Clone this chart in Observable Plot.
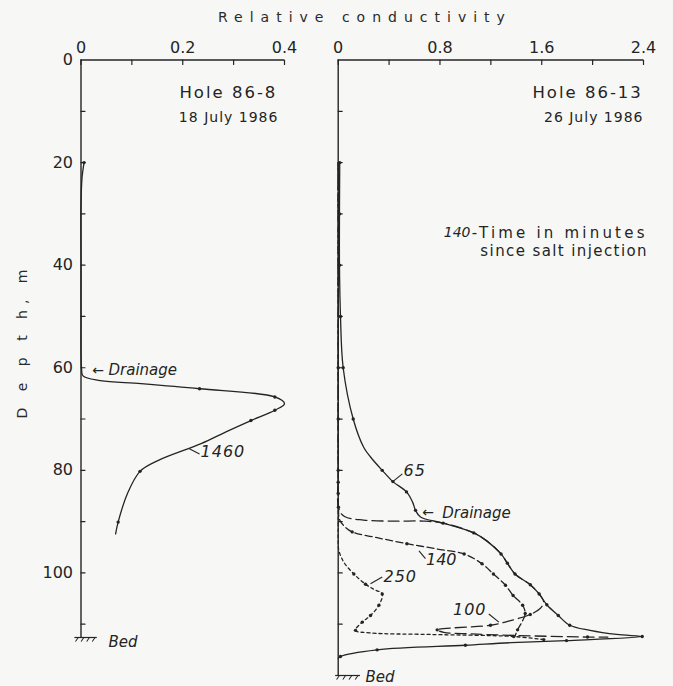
<!DOCTYPE html>
<html><head><meta charset="utf-8">
<script src="https://cdn.jsdelivr.net/npm/d3@7"></script>
<script src="https://cdn.jsdelivr.net/npm/@observablehq/plot@0.6"></script>
<style>
body{margin:0;background:#f7f8f5;}
#wrap{position:relative;width:673px;height:686px;overflow:hidden;font-family:"DejaVu Sans",sans-serif;color:#2a2a2a;background:#f7f8f5;}
#title{position:absolute;left:218px;top:9px;font-size:14px;letter-spacing:7px;white-space:nowrap;}
#ylab{position:absolute;left:22px;top:341px;transform:translate(-50%,-50%) rotate(-90deg);font-size:14px;letter-spacing:6px;white-space:pre;}
</style></head>
<body><div id="wrap"><div id="title">Relative conductivity</div><div id="ylab">D e p t h, m</div></div>
<script>
// ---- data: [depth m, relative conductivity, measured point (1) or not (0)] ----
const hole868_1460 = [
  [20,0.006,1],[23,0.002,0],[28,0,0],[40,0,0],[50,0,0],[60,0.001,0],[61.6,0.004,0],[62.5,0.038,0],
  [63.1,0.118,0],[64.1,0.233,1],[65.7,0.381,1],[67.0,0.400,0],[68.3,0.381,1],[70.3,0.334,1],
  [72.5,0.285,0],[74.8,0.236,0],[78.1,0.151,0],[80.2,0.116,1],[84.6,0.091,0],[90.1,0.073,1],[92.4,0.068,0]
];
const hole8613_65 = [
  [20,0.012,1],[30,0.01,1],[40,0.01,1],[50,0.018,1],[60,0.039,1],[70,0.118,1],[75.5,0.2,0],[77.4,0.254,0],
  [80,0.346,1],[82.2,0.43,1],[84.2,0.537,1],[86.2,0.585,0],[87.8,0.608,1],[89.1,0.647,0],[90.3,0.825,1],
  [92.2,1.066,1],[93.8,1.17,0],[96.3,1.28,1],[98.1,1.33,1],[100.2,1.39,1],[102.3,1.51,1],[104.1,1.58,1],
  [106.2,1.64,1],[108.3,1.73,1],[110.2,1.82,1],[111.2,1.98,0],[112.0,2.19,0],[112.4,2.39,1],
  [113.2,1.795,1],[113.6,1.36,0],[114.1,1.0,1],[115.0,0.306,1],[116.3,0.018,1],[116.7,0,0]
];
const hole8613_100 = [
  [20,0,0],[60,0,0],[80,0,0],[87.5,0.005,0],[89.0,0.05,0],[89.7,0.2,0],[89.9,0.45,0],[89.9,0.67,0],
  [90.3,0.825,0],[92.2,1.066,0],[93.8,1.17,0],[96.3,1.28,0],[98.1,1.33,0],[100.2,1.39,0],[102.3,1.51,0],
  [104.3,1.585,0],[105.7,1.615,0],[107.0,1.585,0],[108.1,1.51,1],[109.3,1.355,0],[110.2,1.197,1],
  [111.1,0.778,1],[111.6,0.83,0],[111.9,1.05,0],[112.2,1.4,0],[112.5,1.96,1],[112.5,2.12,0]
];
const hole8613_140 = [
  [20,0,0],[60,0,1],[70,0,1],[80,0,1],[82.3,0,1],[84.5,0,1],[87.2,0.002,1],[89.6,0.01,0],[90.8,0.045,0],
  [92.0,0.11,1],[93.2,0.32,0],[94.3,0.54,1],[95.3,0.77,0],[96.3,0.99,1],[98.2,1.13,1],[100.2,1.22,1],
  [102.4,1.315,1],[104.4,1.375,1],[106.3,1.45,1],[107.9,1.47,1],[109.3,1.45,0],[111.1,1.41,1],[112.3,1.39,0]
];
const hole8613_250 = [
  [20,0,0],[60,0,0],[80,0,0],[90,0,0],[93.7,0,0],[95.6,0.005,0],[97.9,0.044,0],[100.2,0.123,1],
  [102.2,0.215,1],[103.2,0.28,0],[104.1,0.346,1],[106.3,0.32,1],[108.3,0.254,1],[109.6,0.189,1],
  [111.2,0.136,1],[111.7,0.254,0],[112.0,0.726,0],[112.4,1.38,1],[113.0,1.616,1]
];
// ---- axes / ticks ----
const condTicksL = [0,0.1,0.2,0.3,0.4];
const condLabelsL = [0,0.2,0.4];
const condTicksR = [0,0.4,0.8,1.2,1.6,2.0,2.4];
const condLabelsR = [0,0.8,1.6,2.4];
const depthTicks = [10,20,30,40,50,60,70,80,90,100,110];
const depthLabels = [0,20,40,60,80,100];
const bedL = 112.6, bedR = 120;

const fam = "DejaVu Sans";
const ink = "#242424";
const tickShape = {draw(ctx, l){ ctx.moveTo(0,0); ctx.lineTo(0,-l); }};
const fmt = d => d === 0 ? "0" : d.toFixed(1);
const rows = arr => arr.map(([depth, value, pt]) => ({depth, value, pt}));
const spacingMap = new Map();

function series(arr, dash) {
  const r = rows(arr);
  return [
    Plot.line(r, {x:"value", y:"depth", curve:"catmull-rom", stroke: ink, strokeWidth: 1.3, strokeDasharray: dash}),
    Plot.dot(r.filter(d => d.pt), {x:"value", y:"depth", r: 1.7, fill: ink})
  ];
}
function txt(list) {
  list.forEach(n => { if (n.ls) spacingMap.set(n.t, n.ls); });
  return list.map(n => Plot.text([n], {
    x:"x", y:"y", text:"t", fontFamily: fam, fill: ink,
    fontSize: n.size, fontStyle: n.it ? "italic" : "normal",
    textAnchor: n.anchor || "start"
  }));
}
function leaders(list) {
  return Plot.link(list, {x1:"x1", y1:"y1", x2:"x2", y2:"y2", stroke: ink, strokeWidth: 1.1});
}
function frame(xTicks, xLabels, xMax, bed, hx1, hx2, hatchN) {
  const hatchX = d3.range(hatchN).map(i => hx1 + (hx2 - hx1) * (i + 0.6) / hatchN);
  return [
    Plot.ruleY([0], {x1: 0, x2: xMax, stroke: ink, strokeWidth: 1.4}),
    Plot.ruleX([0], {y1: 0, y2: bed, stroke: ink, strokeWidth: 1.4}),
    Plot.vector(xTicks, {x: d => d, y: () => 0, length: 4.5, rotate: 180, anchor: "start", shape: tickShape, stroke: ink, strokeWidth: 1.2}),
    Plot.vector(depthTicks.filter(d => d < bed), {x: () => 0, y: d => d, length: 4, rotate: 90, anchor: "start", shape: tickShape, stroke: ink, strokeWidth: 1.2}),
    Plot.text(xLabels, {x: d => d, y: () => 0, text: fmt, dy: -12, fontSize: 16, fontFamily: fam, fill: ink}),
    Plot.ruleY([bed], {x1: hx1, x2: hx2, stroke: ink, strokeWidth: 1.2}),
    Plot.vector(hatchX, {x: d => d, y: () => bed, length: 4.5, rotate: 215, anchor: "start", shape: tickShape, stroke: ink, strokeWidth: 1})
  ];
}
const wrap = document.getElementById("wrap");
function spacing(svg) {
  svg.querySelectorAll("text").forEach(t => {
    const v = spacingMap.get(t.textContent);
    if (v) t.style.letterSpacing = v + "px";
  });
}

// ---- left panel: Hole 86-8 ----
const left = Plot.plot({
  width: 330, height: 686,
  marginTop: 59.5, marginLeft: 80.5, marginRight: 46, marginBottom: 49,
  x: {domain: [0, 0.4], axis: null},
  y: {domain: [0, bedL], reverse: true, axis: null},
  style: {position: "absolute", left: "0px", top: "0px", background: "transparent", overflow: "visible", fontFamily: fam},
  marks: [
    ...frame(condTicksL, condLabelsL, 0.4, bedL, -0.012, 0.032, 4),
    Plot.text(depthLabels, {x: () => 0, y: d => d, text: d => String(d), textAnchor: "end", dx: -8, fontSize: 16, fontFamily: fam, fill: ink}),
    ...series(hole868_1460, null),
    ...txt([
      {x: 0.386, y: 6.4, t: "Hole 86-8", size: 16.5, anchor: "end", ls: 2},
      {x: 0.388, y: 11.2, t: "18 July 1986", size: 14, anchor: "end", ls: 1},
      {x: 0.022, y: 60.5, t: "←", size: 14},
      {x: 0.054, y: 60.5, t: "Drainage", size: 15, it: true},
      {x: 0.235, y: 76.4, t: "1460", size: 16, it: true, ls: 1},
      {x: 0.054, y: 113.5, t: "Bed", size: 15, it: true}
    ]),
    leaders([{x1: 0.213, y1: 75.8, x2: 0.233, y2: 76.8}])
  ]
});
spacing(left);
wrap.appendChild(left);

// ---- right panel: Hole 86-13 ----
const right = Plot.plot({
  width: 343, height: 686,
  marginTop: 59.5, marginLeft: 7.7, marginRight: 30, marginBottom: 11,
  x: {domain: [0, 2.4], axis: null},
  y: {domain: [0, bedR], reverse: true, axis: null},
  style: {position: "absolute", left: "330px", top: "0px", background: "transparent", overflow: "visible", fontFamily: fam},
  marks: [
    ...frame(condTicksR, condLabelsR, 2.4, bedR, -0.02, 0.175, 4),
    ...series(hole8613_250, "3,3"),
    ...series(hole8613_140, "7,3.5"),
    ...series(hole8613_100, "11,5"),
    ...series(hole8613_65, null),
    ...txt([
      {x: 2.395, y: 6.4, t: "Hole 86-13", size: 16.5, anchor: "end", ls: 2},
      {x: 2.40, y: 11.2, t: "26 July 1986", size: 14, anchor: "end", ls: 1},
      {x: 0.83, y: 33.7, t: "140", size: 14, it: true},
      {x: 1.05, y: 33.7, t: "-Time in minutes", size: 15, ls: 3.2},
      {x: 2.435, y: 37.3, t: "since salt injection", size: 15, anchor: "end", ls: 1.4},
      {x: 0.66, y: 88.3, t: "←", size: 14},
      {x: 0.818, y: 88.3, t: "Drainage", size: 15, it: true},
      {x: 0.513, y: 80.2, t: "65", size: 16, it: true, ls: 1},
      {x: 0.69, y: 97.4, t: "140", size: 16, it: true},
      {x: 0.356, y: 100.8, t: "250", size: 16, it: true, ls: 1},
      {x: 1.166, y: 107.3, t: "100", size: 16, it: true, anchor: "end", ls: 1},
      {x: 0.215, y: 120.4, t: "Bed", size: 15, it: true}
    ]),
    leaders([
      {x1: 0.429, y1: 82.2, x2: 0.504, y2: 80.7},
      {x1: 0.635, y1: 95.7, x2: 0.686, y2: 97.2},
      {x1: 0.254, y1: 102.1, x2: 0.346, y2: 100.8},
      {x1: 1.184, y1: 108.0, x2: 1.263, y2: 109.6}
    ])
  ]
});
spacing(right);
wrap.appendChild(right);
</script>
</body></html>
